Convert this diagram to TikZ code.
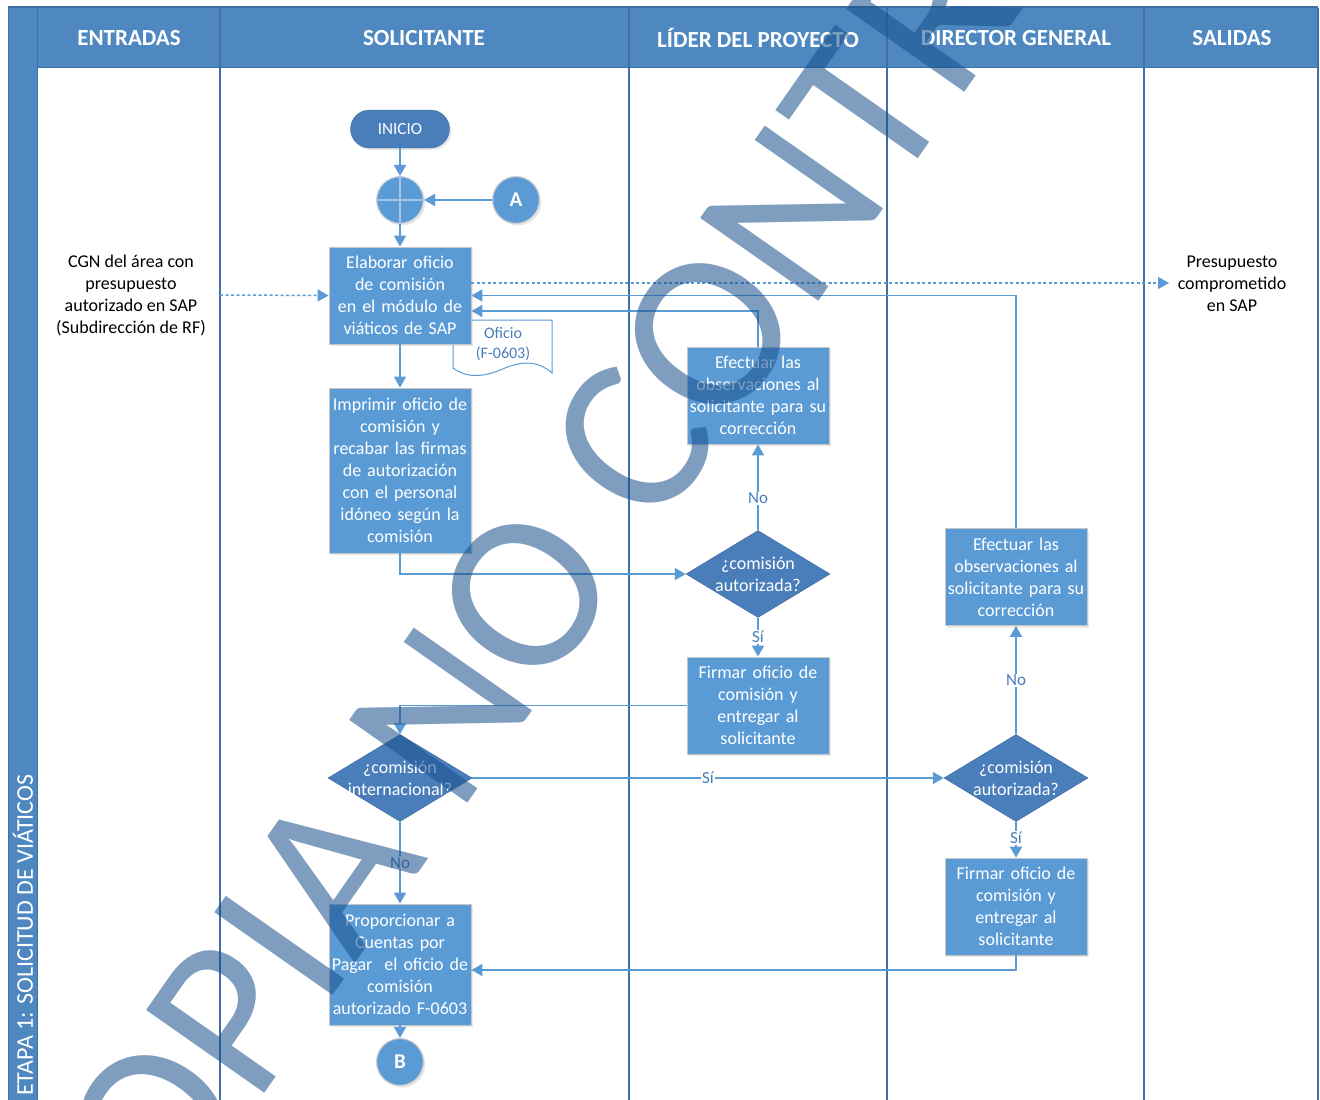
\documentclass[tikz,border=0pt]{standalone}
\usepackage{fontspec}
\setmainfont{Carlito}
\usetikzlibrary{arrows.meta,shapes.geometric,shadows,calc}
\definecolor{hdr}{RGB}{79,136,192}
\definecolor{lane}{RGB}{62,112,168}
\definecolor{proc}{RGB}{91,155,213}
\definecolor{dec}{RGB}{74,126,187}
\definecolor{lbl}{RGB}{74,126,187}
\definecolor{wm}{RGB}{22,80,140}
\definecolor{crossc}{RGB}{170,195,225}
\begin{document}
\begin{tikzpicture}[x=1pt,y=-1pt,
  txt/.style={font=\fontsize{18}{22}\selectfont, align=center, inner sep=0pt},
  procbox/.style={rectangle, fill=proc, draw=black!22, line width=0.8pt, minimum width=142pt, minimum height=97pt, inner sep=0pt, text width=140pt, align=center, text=white, font=\fontsize{18}{22}\selectfont, drop shadow={opacity=0.18,shadow xshift=2pt,shadow yshift=-2pt}},
  decbox/.style={diamond, fill=dec, draw=dec!85!black, line width=0.5pt, minimum width=144pt, minimum height=87pt, inner sep=0pt},
  dectext/.style={text=white, font=\fontsize{18}{22}\selectfont, align=center, inner sep=0pt},
  flow/.style={draw=proc, line width=1.8pt, -{Triangle[length=11pt,width=12pt]}},
  plain/.style={draw=proc, line width=1.8pt},
  dashflow/.style={draw=proc, line width=1.5pt, dash pattern=on 3pt off 2.5pt, -{Triangle[length=11pt,width=12pt]}},
  yn/.style={fill=white, text=lbl, font=\fontsize{17}{20}\selectfont, inner sep=1pt},
  conn/.style={circle, fill=proc, draw=black!18, line width=1.2pt, minimum size=47pt, inner sep=0pt, text=white, font=\fontsize{21}{24}\selectfont\bfseries, drop shadow={opacity=0.18,shadow xshift=2pt,shadow yshift=-2pt}},
  hdrtext/.style={text=white, font=\fontsize{23}{26}\selectfont\bfseries},
  lanel/.style={draw=lane, line width=1.5pt}
]
\useasboundingbox (0,0) rectangle (1320,1100);
\fill[white] (0,0) rectangle (1320,1100);
% pool frame
\fill[hdr] (8,8) rectangle (1318,67);
\fill[hdr] (8,8) rectangle (37,1100);
\draw[lane, line width=2pt] (8,7) -- (1318,7);
\draw[lane, line width=1pt] (8,8) -- (8,1100);
\draw[lane, line width=1pt] (37,8) -- (37,1100);
\draw[lane, line width=1pt] (37,67) -- (1318,67);
\foreach \xx in {220,629,887,1144,1318} {\draw[lanel] (\xx,8) -- (\xx,1100);}
% headers
\node[hdrtext] (h1) at (129,38) {ENTRADAS};
\node[hdrtext] (h2) at (424,38) {SOLICITANTE};
\node[hdrtext] (h3) at (758,38) {LÍDER DEL PROYECTO};
\node[hdrtext] (h4) at (1016,38) {DIRECTOR GENERAL};
\node[hdrtext] (h5) at (1232,38) {SALIDAS};
\node[rotate=90, anchor=west, text=white, font=\fontsize{24}{26}\selectfont, inner sep=0pt] (stage) at (23,1096) {ETAPA  1: SOLICITUD DE VIÁTICOS};
% inputs / outputs
\node[txt] (entr) at (131,295) {CGN del área con\\presupuesto\\autorizado en SAP\\(Subdirección de RF)};
\node[txt] (sal) at (1232,284) {Presupuesto\\comprometido\\en SAP};
% start
\node[rectangle, rounded corners=19pt, fill=dec, draw=dec!85!black, minimum width=99pt, minimum height=38pt, text=white, font=\fontsize{17}{20}\selectfont, drop shadow={opacity=0.18,shadow xshift=2pt,shadow yshift=-2pt}] (inicio) at (400,129) {INICIO};
\node[circle, fill=proc, draw=black!15, line width=1.2pt, minimum size=47pt, inner sep=0pt, drop shadow={opacity=0.18,shadow xshift=2pt,shadow yshift=-2pt}] (junc) at (400,200) {};
\draw[crossc, line width=1.2pt] (junc.north) -- (junc.south) (junc.west) -- (junc.east);
\node[conn] (A) at (516,200) {A};
% document
\draw[draw=proc, fill=white, line width=1pt] (453,320) -- (552,320) -- (552,373) .. controls (540,362) and (525,360) .. (505,368) .. controls (485,377) and (468,379) .. (453,368) -- cycle;
\node[text=lbl, font=\fontsize{16}{20}\selectfont, align=center, inner sep=0pt] (doct) at (503,344) {Oficio\\(F-0603)};
% process boxes
\node[procbox] (elab) at (400,295.5) {Elaborar oficio\\de comisión\\en el módulo de\\viáticos de SAP};
\node[procbox, minimum height=165pt] (impr) at (400,470.5) {Imprimir oficio de\\comisión y\\recabar las firmas\\de autorización\\con el personal\\idóneo según la\\comisión};
\node[procbox] (ef1) at (758,395.5) {Efectuar las\\observaciones al\\solicitante para su\\corrección};
\node[procbox] (fi1) at (758,705.5) {Firmar oficio de\\comisión y\\entregar al\\solicitante};
\node[procbox] (ef2) at (1016,577) {Efectuar las\\observaciones al\\solicitante para su\\corrección};
\node[procbox] (fi2) at (1016,906.5) {Firmar oficio de\\comisión y\\entregar al\\solicitante};
\node[procbox, minimum height=121pt] (prop) at (400,964.5) {Proporcionar a\\Cuentas por\\Pagar~~el oficio de\\comisión\\autorizado F-0603};
\node[conn] (B) at (400,1062) {B};
% decisions
\node[decbox] (d1) at (758,574) {};
\node[dectext] (d1t) at (758,574) {¿comisión\\autorizada?};
\node[decbox] (d2) at (400,778) {};
\node[dectext] (d2t) at (400,778) {¿comisión\\internacional?};
\node[decbox] (d3) at (1016,778) {};
\node[dectext] (d3t) at (1016,778) {¿comisión\\autorizada?};
% connectors
\draw[flow] (inicio.south) -- (junc.north);
\draw[flow] (A.west) -- (junc.east);
\draw[flow] (junc.south) -- (elab.north);
\coordinate (din) at (220,295);
\coordinate (dout) at (1169,283);
\draw[dashflow] (din) -- (elab.west);
\draw[dashflow] ($(elab.east)+(0,-12.5)$) -- (dout);
\draw[flow] (elab.south) -- (impr.north);
\draw[flow] (impr.south) |- (d1.west);
\draw[flow] (d1.north) -- node[yn, pos=0.37] (n1) {No} (ef1.south);
\draw[flow] (ef1.north) |- ($(elab.east)+(0,15.5)$);
\draw[flow] (d1.south) -- node[yn, pos=0.5] (s1) {Sí} (fi1.north);
\draw[flow] (fi1.west) -| (d2.north);
\draw[flow] (d2.east) -- node[yn, pos=0.5] (s2) {Sí} (d3.west);
\draw[flow] (d2.south) -- node[yn, pos=0.5] (n2) {No} (prop.north);
\draw[flow] (prop.south) -- (B.north);
\draw[flow] (d3.north) -- node[yn, pos=0.5] (n3) {No} (ef2.south);
\draw[flow] (ef2.north) |- (elab.east);
\draw[flow] (d3.south) -- node[yn, pos=0.45] (s3) {Sí} (fi2.north);
\draw[flow] (fi2.south) |- ($(prop.east)+(0,5.5)$);
% watermark
\begin{scope}
\clip (0,0) rectangle (1320,1100);
\node[rotate=55, anchor=base west, text=wm, text opacity=0.55, font=\fontsize{225}{225}\selectfont, inner sep=0pt] (wmark) at (102,1325) {COPIA NO CONTROLADA};
\end{scope}
\end{tikzpicture}
\end{document}
